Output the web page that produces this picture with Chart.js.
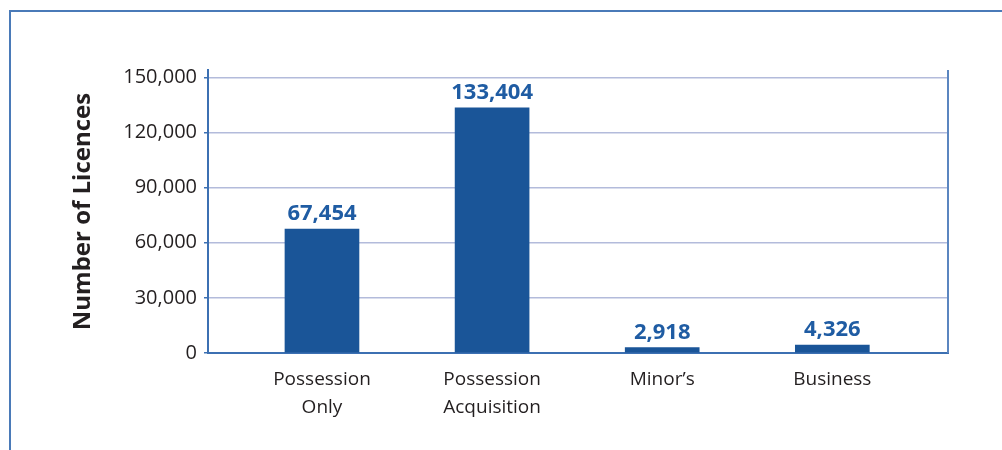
<!DOCTYPE html>
<html>
<head>
<meta charset="utf-8">
<script src="https://cdn.jsdelivr.net/npm/chart.js@4/dist/chart.umd.min.js"></script>
<style>
  html, body { margin: 0; padding: 0; background: #fff; }
  .frame {
    position: absolute; left: 9px; top: 10px; right: 0; bottom: 0;
    border-top: 2px solid #4a7ab8; border-left: 2px solid #4a7ab8;
  }
  .wrap { position: absolute; left: 0; top: 0; width: 1002px; height: 450px; }
</style>
</head>
<body>
<div class="frame"></div>
<div class="wrap"><canvas id="licenceChart"></canvas></div>
<script>
const categories = [['Possession', 'Only'], ['Possession', 'Acquisition'], ['Minor\u2019s'], ['Business']];
const licences = [67454, 133404, 2918, 4326];
const yTicks = [0, 30000, 60000, 90000, 120000, 150000];

const AXIS_BLUE = '#3c70b2';
const BAR_BLUE = '#1a5598';
const FONT = "'Open Sans', sans-serif";

const points = licences.map((v, i) => ({ x: i, y: v }));

// value labels above each bar, plus the closing line on the right of the plot
const barLabels = {
  id: 'barLabels',
  afterDatasetsDraw(chart) {
    const ctx = chart.ctx;
    const meta = chart.getDatasetMeta(0);
    ctx.save();
    ctx.fillStyle = '#1f5ca3';
    ctx.font = `bold 22px ${FONT}`;
    ctx.textAlign = 'center';
    ctx.textBaseline = 'alphabetic';
    meta.data.forEach((bar, i) => {
      ctx.fillText(licences[i].toLocaleString('en-US'), bar.x, bar.y - 9);
    });
    const a = chart.chartArea;
    ctx.strokeStyle = '#5b86c0';
    ctx.lineWidth = 2;
    ctx.beginPath();
    ctx.moveTo(a.right, a.top);
    ctx.lineTo(a.right, a.bottom);
    ctx.stroke();
    ctx.restore();
  }
};

new Chart(document.getElementById('licenceChart'), {
  type: 'bar',
  data: {
    datasets: [{
      data: points,
      backgroundColor: BAR_BLUE,
      barThickness: 74
    }]
  },
  options: {
    responsive: true,
    maintainAspectRatio: false,
    animation: false,
    layout: { padding: { top: 70, right: 54, bottom: 0, left: 0 } },
    plugins: {
      legend: { display: false },
      tooltip: { enabled: false }
    },
    scales: {
      x: {
        type: 'linear',
        offset: false,
        min: -0.67,
        max: 3.68,
        afterFit(scale) { scale.height = 97; },
        grid: { display: false, drawTicks: false },
        border: { display: true, color: AXIS_BLUE, width: 2 },
        ticks: {
          stepSize: 1,
          includeBounds: false,
          autoSkip: false,
          maxRotation: 0,
          padding: 12,
          color: '#231f20',
          font: { family: FONT, size: 19, lineHeight: 1.5 },
          callback: (v) => categories[v] || ''
        }
      },
      y: {
        min: 0,
        max: 154000,
        afterFit(scale) { scale.width = 208; },
        grid: { color: '#b3bbdb', lineWidth: 1.5, tickLength: 4, tickColor: AXIS_BLUE },
        border: { display: true, color: AXIS_BLUE, width: 2 },
        afterBuildTicks(scale) { scale.ticks = yTicks.map(v => ({ value: v })); },
        ticks: {
          padding: 7,
          color: '#231f20',
          font: { family: FONT, size: 20 },
          callback: (v) => v.toLocaleString('en-US')
        },
        title: {
          display: true,
          text: 'Number of Licences',
          color: '#231f20',
          font: { family: FONT, size: 24, weight: 'bold' },
          padding: { top: 69, bottom: 0 }
        }
      }
    }
  },
  plugins: [barLabels]
});
</script>
</body>
</html>
